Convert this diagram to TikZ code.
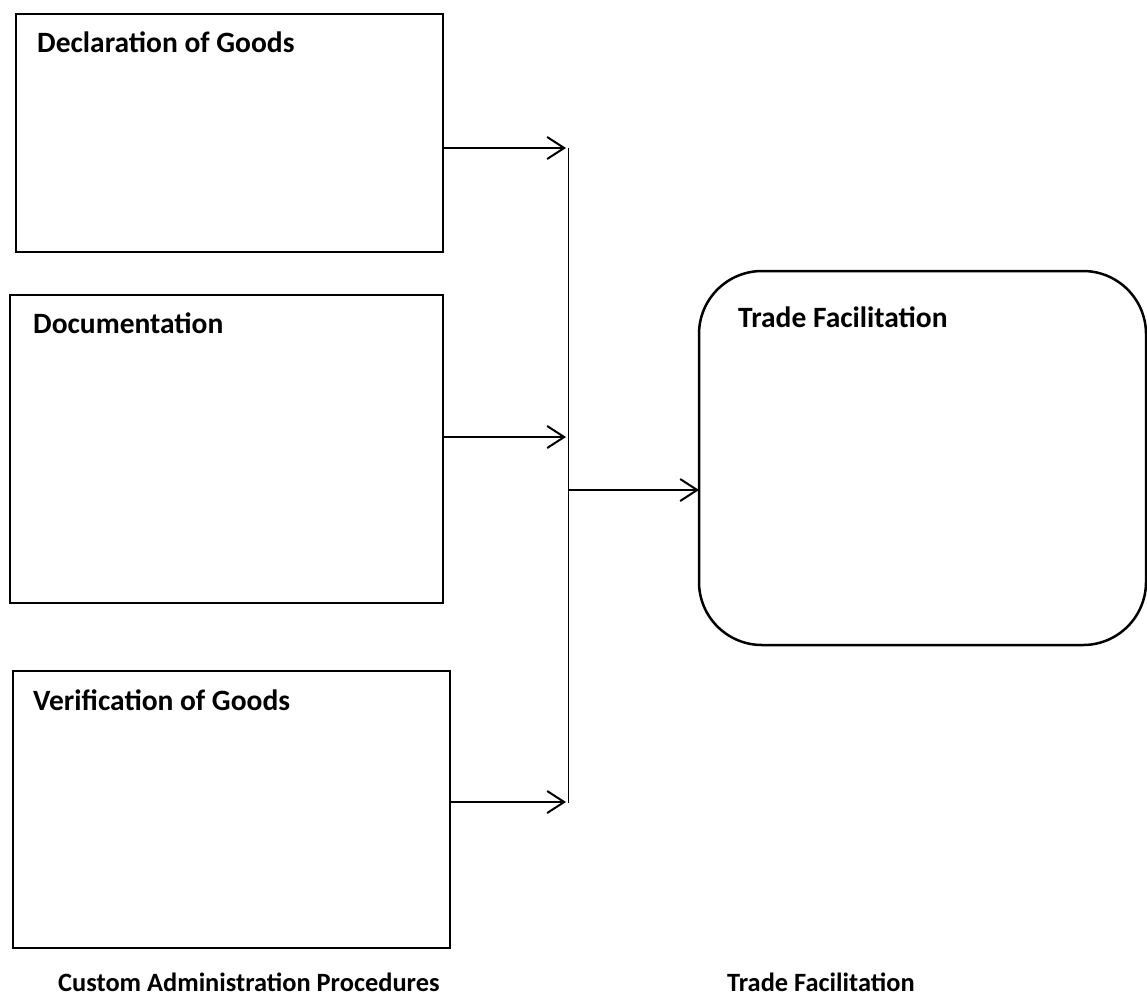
\documentclass[tikz,border=0pt]{standalone}
\usepackage{fontspec}
\setmainfont{Carlito}
\usetikzlibrary{arrows.meta}
\tikzset{
  box/.style={draw, line width=2.5pt, inner sep=0pt, outer sep=0pt, anchor=north west},
  rbox/.style={box, rounded corners=63pt},
  lbl/.style={font=\fontsize{29.5}{32}\selectfont\bfseries, inner sep=0pt, anchor=base west},
  captionlbl/.style={lbl, font=\fontsize{26.4}{30}\selectfont\bfseries},
  arr/.style={line width=2pt, -{Straight Barb[length=17pt, width=22pt, line width=2pt]}},
  bus/.style={line width=1pt},
}
\begin{document}
\begin{tikzpicture}[x=1pt, y=-1pt]
\useasboundingbox (0,0) rectangle (1147,999);
% boxes
\node[box, minimum width=427pt, minimum height=238pt] (b1) at (16,14) {};
\node[box, minimum width=433pt, minimum height=308pt] (b2) at (10,295) {};
\node[box, minimum width=437pt, minimum height=277pt] (b3) at (13,671) {};
\node[rbox, minimum width=447pt, minimum height=374pt] (tf) at (699,271) {};
% labels
\node[lbl] (t1) at (37,52) {Declaration of Goods};
\node[lbl] (t2) at (33,333) {Documentation};
\node[lbl] (t3) at (33,710) {Verification of Goods};
\node[lbl] (t4) at (738,327) {Trade Facilitation};
\node[captionlbl] (c1) at (58,991) {Custom Administration Procedures};
\node[captionlbl] (c2) at (727,991) {Trade Facilitation};
% bus
\coordinate (bt) at (568,148);
\coordinate (bb) at (568,803);
\coordinate (bm) at (568,490);
\draw[bus] (bt) -- (bb);
\coordinate (a1) at (566,148);
\coordinate (a2) at (566,437);
\coordinate (a3) at (566,802);
\draw[arr] (b1.east |- a1) -- (a1);
\draw[arr] (b2.east |- a2) -- (a2);
\draw[arr] (b3.east |- a3) -- (a3);
\draw[arr] (bm) -- (tf.west |- bm);
\end{tikzpicture}
\end{document}
